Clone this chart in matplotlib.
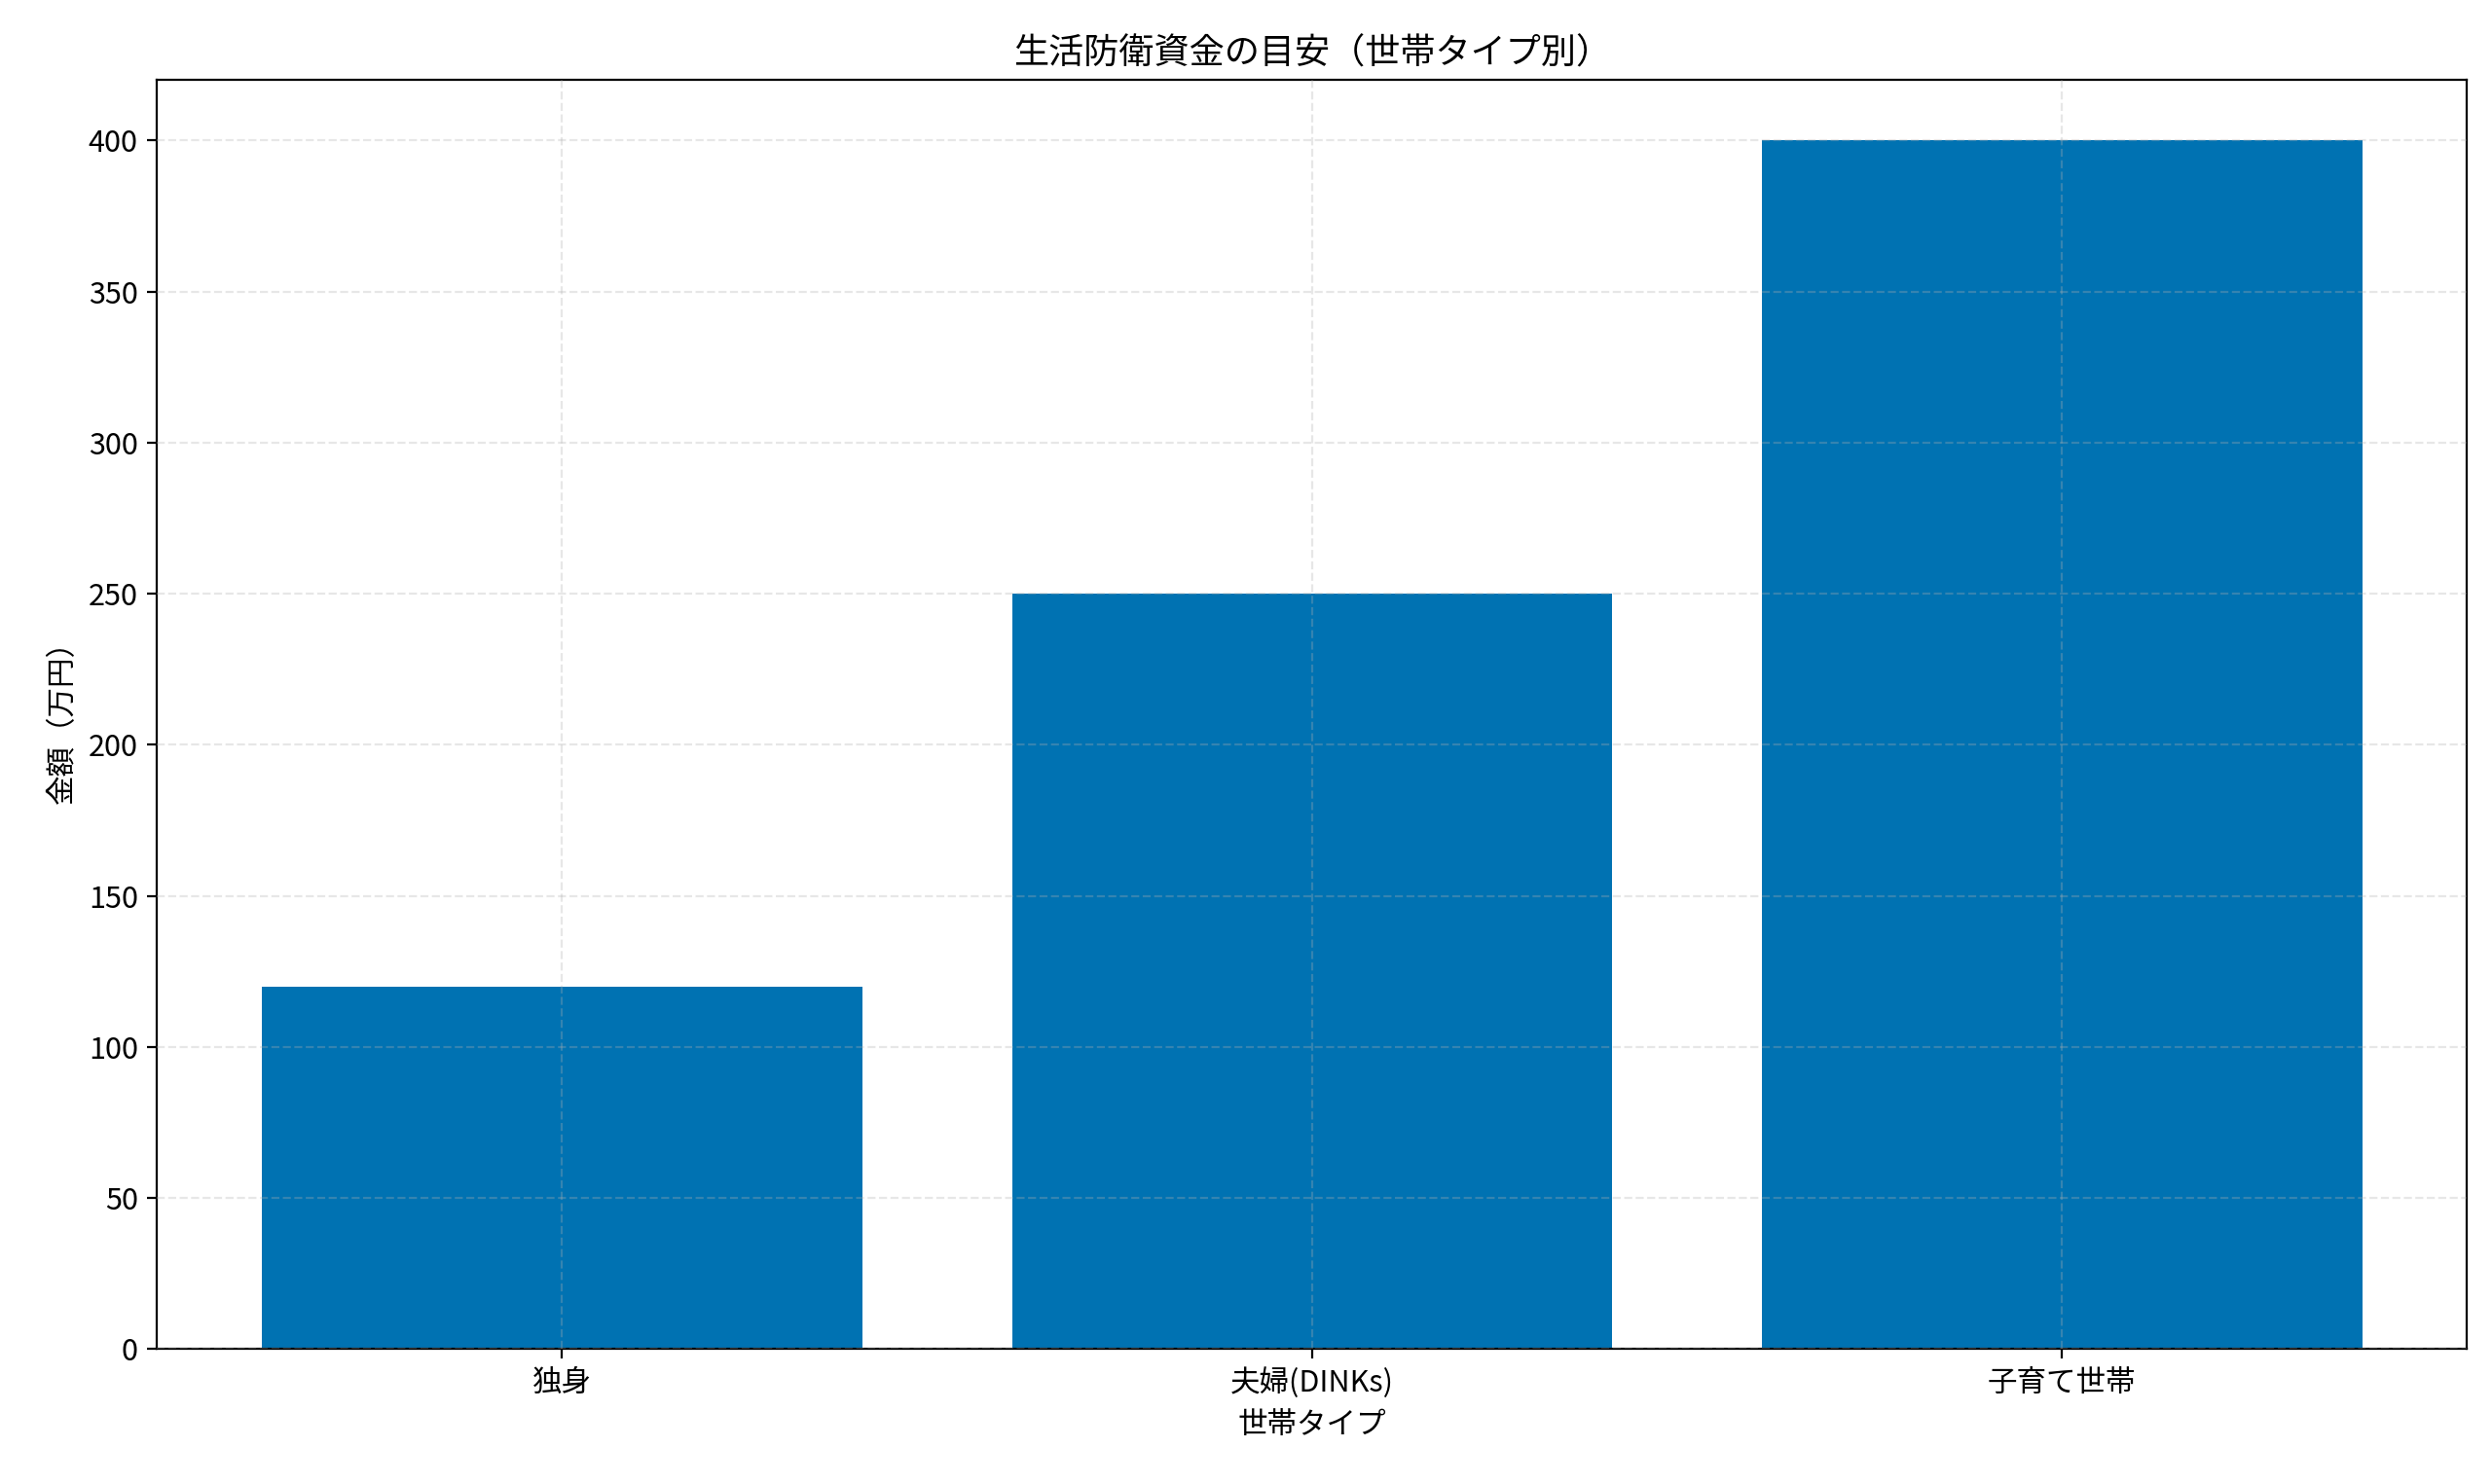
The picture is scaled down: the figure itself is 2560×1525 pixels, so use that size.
import matplotlib
matplotlib.use("Agg")
import matplotlib.pyplot as plt

plt.rcParams['font.family'] = ['Noto Sans CJK JP', 'DejaVu Sans']

categories = ["独身", "夫婦(DINKs)", "子育て世帯"]
values = [120, 250, 400]

fig = plt.figure(figsize=(12.8, 7.625), dpi=200)
ax = fig.add_axes([0.063, 0.091, 0.927, 0.855])
ax.bar(categories, values, color="#0072B2", width=0.8)
ax.set_ylim(0, 420)
ax.set_yticks(range(0, 401, 50))
ax.grid(True, linestyle="--", alpha=0.3)
ax.set_axisbelow(False)
ax.set_title("生活防衛資金の目安（世帯タイプ別）", fontsize=13)
ax.set_xlabel("世帯タイプ", fontsize=11)
ax.set_ylabel("金額（万円）", fontsize=11)
ax.tick_params(labelsize=11)
fig.savefig("out.png", dpi=200)
